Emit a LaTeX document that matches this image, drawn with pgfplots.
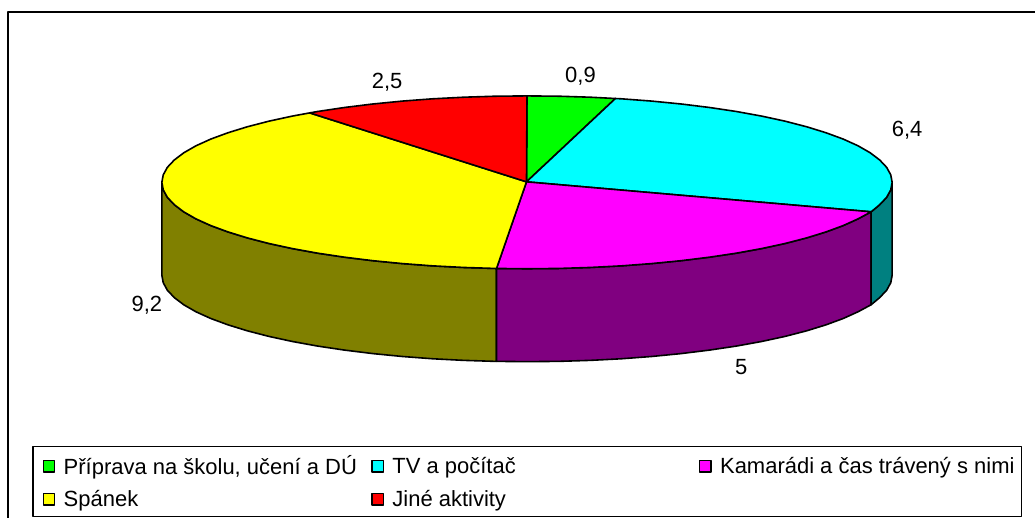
\documentclass[border=0pt]{standalone}
\usepackage{pgfplots}
\pgfplotsset{compat=1.18}
\usepackage{fontspec}
\setmainfont{Liberation Sans}
\definecolor{pgreen}{HTML}{00FF00}
\definecolor{pcyan}{HTML}{00FFFF}
\definecolor{pmag}{HTML}{FF00FF}
\definecolor{pyel}{HTML}{FFFF00}
\definecolor{pred}{HTML}{FF0000}
\definecolor{dteal}{HTML}{008080}
\definecolor{dpur}{HTML}{800080}
\definecolor{doli}{HTML}{808000}
\newcommand{\ent}[2]{\makebox[#1][l]{#2}}
\begin{document}
\begin{tikzpicture}
\begin{axis}[
  scale only axis, width=777pt, height=388.5pt,
  xmin=0, xmax=1036, ymin=0, ymax=518, y dir=reverse,
  hide axis, clip=false,
  area legend,
  legend columns=3,
  legend image code/.code={
    \path[draw=none,fill=none] (-7.5pt,-12.375pt) rectangle (15.4pt,12.375pt);
    \draw[#1,draw=black,line width=0.9pt] (0pt,-4.25pt) rectangle (8.6pt,4.25pt);
  },
  legend style={at={(axis cs:33,450)}, anchor=north west, draw=none, fill=none,
    inner xsep=0pt, inner ysep=0pt, column sep=0pt,
    nodes={inner sep=0pt}, font=\fontsize{16.5}{18}\selectfont},
  every axis plot/.append style={draw=black, line width=1.2pt, line join=round},
]
% page extent
\addplot[draw=none, fill=none, forget plot] coordinates {(0,0)(1036,518)};
% outer frame
\addplot[black, line width=1.5pt, fill=none, forget plot] coordinates {(8.5,518)(8.5,12.5)(1036,12.5)};
% legend box
\addplot[black, line width=0.8pt, fill=white, forget plot] coordinates {(33,447)(1022,447)(1022,517)(33,517)} -- cycle;
% sides
\addplot[fill=doli, forget plot] coordinates {(497,268.7)(495.6,268.7)(464,267.7)(432.9,266.1)(402.5,263.8)(373,260.9)(344.7,257.4)(317.9,253.4)(292.6,248.8)(269.1,243.7)(247.5,238.1)(228.1,232.1)(211,225.8)(196.2,219.1)(184,212.1)(174.5,204.9)(167.5,197.5)(163.4,190)(162,182.5)
 (162,275.5)(163.4,283)(167.5,290.5)(174.5,297.9)(184,305.1)(196.2,312.1)(211,318.8)(228.1,325.1)(247.5,331.1)(269.1,336.7)(292.6,341.8)(317.9,346.4)(344.7,350.4)(373,353.9)(402.5,356.8)(432.9,359.1)(464,360.7)(495.6,361.7)(497,361.7)} -- cycle;
\addplot[fill=dpur, forget plot] coordinates {(872,212)(858.8,219.1)(844,225.8)(826.9,232.1)(807.5,238.1)(785.9,243.7)(762.4,248.8)(737.1,253.4)(710.3,257.4)(682,260.9)(652.5,263.8)(622.1,266.1)(591,267.7)(559.4,268.7)(527.5,269)(497,268.7)
 (497,361.7)(527.5,362)(559.4,361.7)(591,360.7)(622.1,359.1)(652.5,356.8)(682,353.9)(710.3,350.4)(737.1,346.4)(762.4,341.8)(785.9,336.7)(807.5,331.1)(826.9,325.1)(844,318.8)(858.8,312.1)(872,305)} -- cycle;
\addplot[fill=dteal, forget plot] coordinates {(872,212)(880.5,204.9)(887.5,197.5)(891.6,190)(893,182.5)(893,275.5)(891.6,283)(887.5,290.5)(880.5,297.9)(872,305)} -- cycle;
% top wedges
\addplot[fill=pgreen] coordinates {(527,182)(527.5,96)(559.4,96.3)(591,97.3)(616,98.6)} -- cycle;
\addlegendentry{\ent{223.85pt}{Příprava na školu, učení a DÚ}}
\addplot[fill=pcyan] coordinates {(527,182)(616,98.6)(622.1,98.9)(652.5,101.2)(682,104.1)(710.3,107.6)(737.1,111.6)(762.4,116.2)(785.9,121.3)(807.5,126.9)(826.9,132.9)(844,139.2)(858.8,145.9)(871,152.9)(880.5,160.1)(887.5,167.5)(891.6,175)(893,182.5)(891.6,190)(887.5,197.5)(880.5,204.9)(872,212)} -- cycle;
\addlegendentry{\ent{223.1pt}{TV a počítač}}
\addplot[fill=pmag] coordinates {(527,182)(872,212)(858.8,219.1)(844,225.8)(826.9,232.1)(807.5,238.1)(785.9,243.7)(762.4,248.8)(737.1,253.4)(710.3,257.4)(682,260.9)(652.5,263.8)(622.1,266.1)(591,267.7)(559.4,268.7)(527.5,269)(497,268.7)} -- cycle;
\addlegendentry{\ent{218.25pt}{Kamarádi a čas trávený s nimi}}
\addplot[fill=pyel] coordinates {(527,182)(497,268.7)(495.6,268.7)(464,267.7)(432.9,266.1)(402.5,263.8)(373,260.9)(344.7,257.4)(317.9,253.4)(292.6,248.8)(269.1,243.7)(247.5,238.1)(228.1,232.1)(211,225.8)(196.2,219.1)(184,212.1)(174.5,204.9)(167.5,197.5)(163.4,190)(162,182.5)(163.4,175)(167.5,167.5)(174.5,160.1)(184,152.9)(196.2,145.9)(211,139.2)(228.1,132.9)(247.5,126.9)(269.1,121.3)(292.6,116.2)(310,113)} -- cycle;
\addlegendentry{\ent{223.85pt}{Spánek}}
\addplot[fill=pred] coordinates {(527,182)(310,113)(317.9,111.6)(344.7,107.6)(373,104.1)(402.5,101.2)(432.9,98.9)(464,97.3)(495.6,96.3)(527.5,96)} -- cycle;
\addlegendentry{\ent{223.1pt}{Jiné aktivity}}
% data labels
\node[font=\fontsize{16.5}{18}\selectfont] at (axis cs:581,76) {0,9};
\node[font=\fontsize{16.5}{18}\selectfont] at (axis cs:908,130) {6,4};
\node[font=\fontsize{16.5}{18}\selectfont] at (axis cs:742,367) {5};
\node[font=\fontsize{16.5}{18}\selectfont] at (axis cs:147,306) {9,2};
\node[font=\fontsize{16.5}{18}\selectfont] at (axis cs:387.5,82) {2,5};
\end{axis}
\end{tikzpicture}
\end{document}
